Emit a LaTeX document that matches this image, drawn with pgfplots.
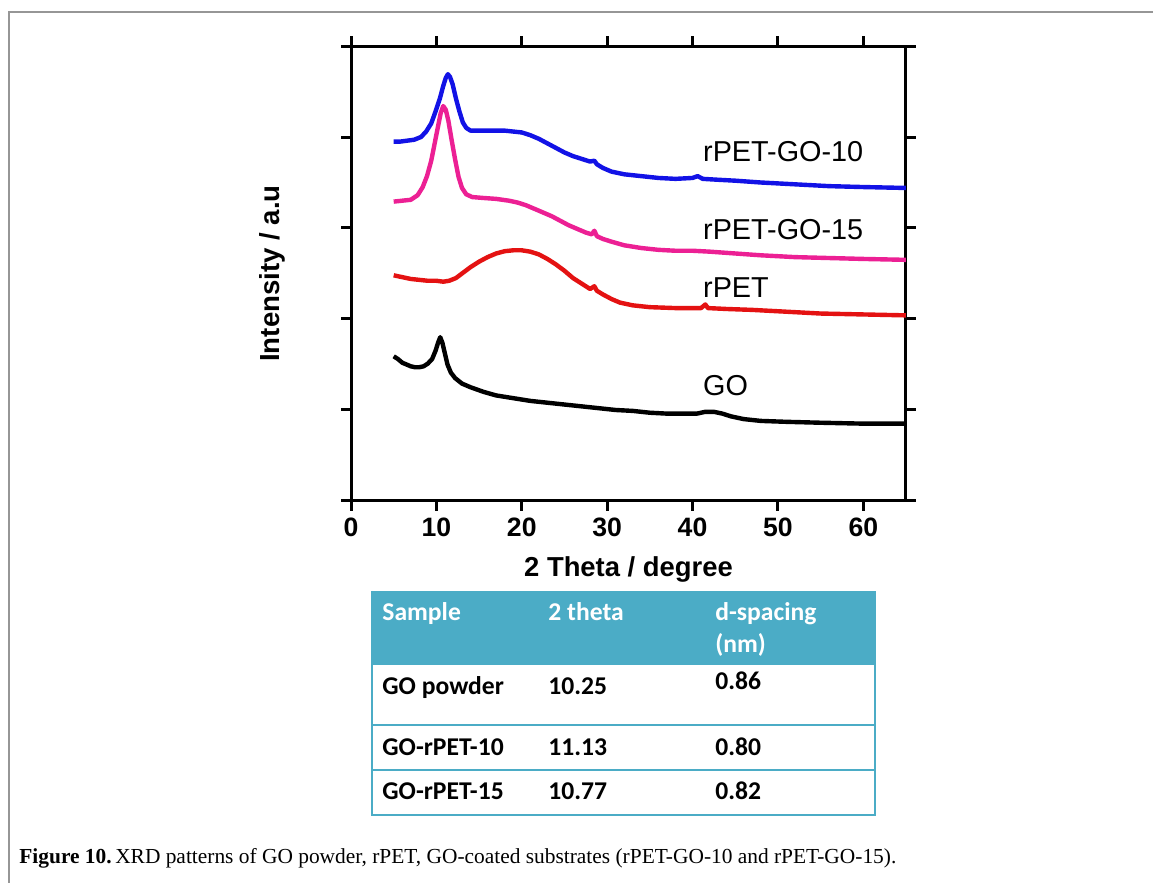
\documentclass[border=0pt]{standalone}
\usepackage{pgfplots}
\pgfplotsset{compat=1.18}
\usepackage{fontspec}
\setmainfont{Liberation Sans}
\newfontfamily\tabfont{Carlito}
\newfontfamily\capfont{Liberation Serif}
\definecolor{cblue}{RGB}{18,18,230}
\definecolor{cpink}{RGB}{236,32,148}
\definecolor{cred}{RGB}{228,18,18}
\definecolor{tabteal}{RGB}{75,172,198}
\definecolor{framegray}{RGB}{150,150,150}

\pgfplotstableread{
x y
5.0 3.95
5.8 3.95
6.6 3.96
7.4 3.97
8.2 4.00
8.8 4.06
9.4 4.15
9.9 4.28
10.4 4.42
10.8 4.56
11.1 4.65
11.35 4.69
11.6 4.66
11.9 4.58
12.3 4.42
12.7 4.28
13.1 4.16
13.5 4.10
14.0 4.07
15.0 4.07
16.5 4.07
18.0 4.07
19.0 4.06
20.0 4.05
21.0 4.02
22.0 3.98
23.0 3.93
24.0 3.88
25.0 3.83
26.0 3.79
27.0 3.76
28.0 3.73
28.5 3.74
28.8 3.70
29.5 3.66
30.5 3.62
32.0 3.59
34.0 3.57
36.0 3.55
38.0 3.54
40.0 3.55
40.6 3.57
41.2 3.54
43.0 3.53
45.0 3.52
48.0 3.50
52.0 3.48
56.0 3.46
60.0 3.45
65.0 3.44
}\rpetgoten

\pgfplotstableread{
x y
5.0 3.29
6.0 3.30
7.0 3.31
7.8 3.36
8.4 3.45
8.9 3.57
9.4 3.74
9.8 3.93
10.2 4.12
10.5 4.26
10.8 4.34
11.1 4.30
11.4 4.18
11.8 3.96
12.2 3.75
12.6 3.56
13.0 3.44
13.5 3.37
14.2 3.34
15.5 3.33
17.0 3.32
18.5 3.30
19.5 3.28
20.5 3.25
21.5 3.21
22.5 3.17
23.5 3.13
24.5 3.08
25.5 3.03
26.5 2.99
27.5 2.95
28.2 2.93
28.5 2.97
28.8 2.91
29.5 2.88
30.5 2.85
32.0 2.81
34.0 2.78
36.0 2.76
38.0 2.75
40.0 2.75
42.0 2.74
45.0 2.72
48.0 2.70
52.0 2.68
56.0 2.67
60.0 2.66
65.0 2.65
}\rpetgofifteen

\pgfplotstableread{
x y
5.0 2.48
6.0 2.46
7.0 2.44
8.0 2.43
9.0 2.42
10.0 2.42
10.8 2.41
11.5 2.42
12.3 2.45
13.0 2.50
14.0 2.57
15.0 2.63
16.0 2.68
17.0 2.72
18.0 2.745
19.0 2.755
20.0 2.755
21.0 2.74
22.0 2.71
23.0 2.66
24.0 2.60
25.0 2.53
26.0 2.45
27.0 2.39
28.0 2.33
28.5 2.36
28.8 2.31
29.5 2.27
30.5 2.22
31.5 2.18
33.0 2.15
35.0 2.13
38.0 2.12
41.0 2.12
41.5 2.16
41.8 2.12
44.0 2.11
47.0 2.10
51.0 2.08
55.0 2.06
60.0 2.05
65.0 2.04
}\rpet

\pgfplotstableread{
x y
5.0 1.59
5.5 1.56
6.0 1.52
6.5 1.50
7.0 1.48
7.5 1.47
8.0 1.47
8.5 1.48
9.0 1.51
9.5 1.56
9.9 1.65
10.2 1.74
10.45 1.80
10.7 1.74
11.0 1.62
11.3 1.50
11.7 1.41
12.2 1.35
13.0 1.29
14.0 1.25
15.5 1.20
17.0 1.16
19.0 1.13
21.0 1.10
23.0 1.08
25.0 1.06
27.0 1.04
29.0 1.02
31.0 1.00
33.0 0.99
35.0 0.97
37.0 0.96
39.0 0.96
40.5 0.96
41.5 0.98
42.5 0.98
43.5 0.96
44.5 0.93
46.0 0.90
48.0 0.88
51.0 0.87
55.0 0.86
60.0 0.85
65.0 0.85
}\go

\begin{document}
\begin{tikzpicture}
\useasboundingbox (0,0) rectangle (576.5pt,441.5pt);
\fill[white] (0,0) rectangle (576.5pt,441.5pt);
\draw[framegray, line width=1pt] (4.5pt,0) -- (4.5pt,435.5pt) -- (576.5pt,435.5pt);

\begin{axis}[
  at={(175.5pt,191pt)}, anchor=south west,
  scale only axis, width=277.5pt, height=227.5pt,
  xmin=0, xmax=65, ymin=0, ymax=5,
  xtick={0,10,...,60}, ytick={0,1,...,5}, yticklabels={},
  tick align=outside, major tick length=5pt,
  tick style={line width=1.5pt, black},
  axis line style={line width=1.5pt},
  /pgf/number format/assume math mode=true,
  xticklabel style={font=\bfseries\fontsize{13.3}{13}\selectfont},
  xlabel={2 Theta / degree},
  xlabel style={font=\bfseries\fontsize{13.7}{14}\selectfont, at={(axis description cs:0.5,-0.167)}, anchor=base},
  ylabel={Intensity / a.u},
  ylabel style={font=\bfseries\fontsize{13.8}{14}\selectfont, at={(axis description cs:-0.142,0.5)}, anchor=center},
  every axis plot/.append style={line width=2.2pt, line join=round, mark=none},
]
\addplot[cblue] table[x=x,y=y] {\rpetgoten};
\addplot[cpink] table[x=x,y=y] {\rpetgofifteen};
\addplot[cred] table[x=x,y=y] {\rpet};
\addplot[black] table[x=x,y=y] {\go};
\node[anchor=west, inner sep=0, font=\fontsize{14.4}{15}\selectfont] at (axis cs:41.2,3.835) {rPET-GO-10};
\node[anchor=west, inner sep=0, font=\fontsize{14.4}{15}\selectfont] at (axis cs:41.2,2.98) {rPET-GO-15};
\node[anchor=west, inner sep=0, font=\fontsize{14.4}{15}\selectfont] at (axis cs:41.2,2.35) {rPET};
\node[anchor=west, inner sep=0, font=\fontsize{14.4}{15}\selectfont] at (axis cs:41.2,1.27) {GO};
\end{axis}

% table
\fill[tabteal] (186pt,109pt) rectangle (437.5pt,146pt);
\draw[tabteal, line width=0.8pt] (186pt,146pt) -- (186pt,34pt) -- (437.5pt,34pt) -- (437.5pt,146pt);
\draw[tabteal, line width=0.8pt] (186pt,79pt) -- (437.5pt,79pt);
\draw[tabteal, line width=0.8pt] (186pt,56.5pt) -- (437.5pt,56.5pt);
\begin{scope}[every node/.style={anchor=base west, inner sep=0, font=\tabfont\bfseries\fontsize{12.8}{14}\selectfont}]
\node[white] at (191pt,131pt) {Sample};
\node[white] at (274pt,131pt) {2 theta};
\node[white] at (357.5pt,131pt) {d-spacing};
\node[white] at (357.5pt,115pt) {(nm)};
\node at (191pt,94pt) {GO powder};
\node at (274pt,94pt) {10.25};
\node at (357.5pt,96.5pt) {0.86};
\node at (191pt,63.5pt) {GO-rPET-10};
\node at (274pt,63.5pt) {11.13};
\node at (357.5pt,63.5pt) {0.80};
\node at (191pt,41.5pt) {GO-rPET-15};
\node at (274pt,41.5pt) {10.77};
\node at (357.5pt,41.5pt) {0.82};
\end{scope}

\node[anchor=base west, inner sep=0, font=\capfont\fontsize{10.7}{12}\selectfont] at (9.5pt,9.5pt) {\textbf{Figure 10.}\,XRD patterns of GO powder, rPET, GO-coated substrates (rPET-GO-10 and rPET-GO-15).};
\end{tikzpicture}
\end{document}
